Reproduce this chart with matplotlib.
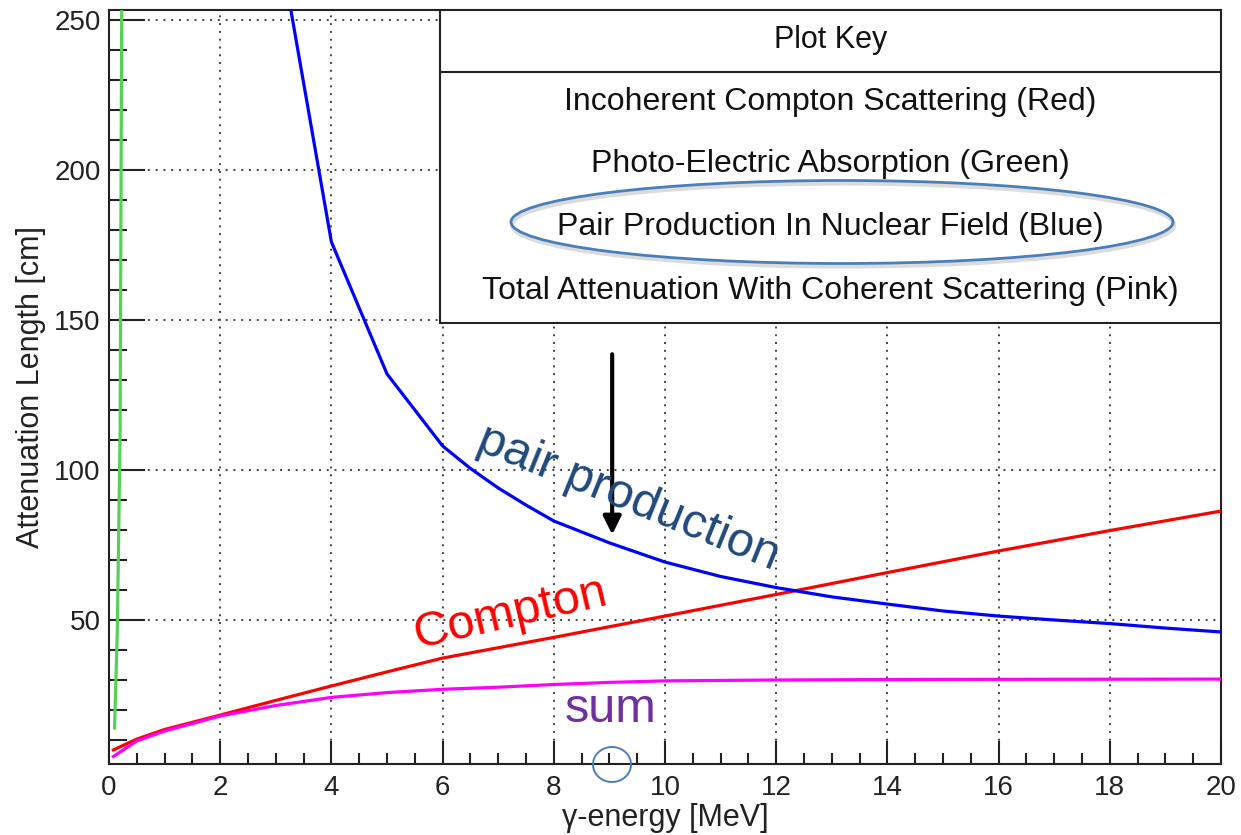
import numpy as np
import matplotlib.pyplot as plt
from matplotlib.patches import Ellipse, Rectangle

# attenuation lengths [cm]
e_compton = [0.08, 0.5, 1, 2, 3, 4, 5, 6, 8, 10, 12, 14, 16, 18, 20]
l_compton = [6.7, 10.3, 13.5, 18.3, 23.2, 28.0, 32.7, 37.3, 44.2, 51.3, 58.5, 65.8, 73.0, 79.8, 86.3]

e_photo = [0.10, 0.15, 0.20, 0.23]
l_photo = [14, 47, 113, 260]

e_pair = [3, 4, 5, 6, 6.5, 7, 7.5, 8, 9, 10, 11, 12, 13, 14, 15, 16, 17, 18, 19, 20]
l_pair = [282, 176, 132, 108, 100.5, 94, 88.3, 83, 75.7, 69.3, 64.5, 60.8, 57.7, 55.3, 53.0, 51.3, 50.0, 48.8, 47.3, 46.0]

e_total = [0.08, 0.5, 1, 2, 3, 4, 5, 6, 7, 8, 9, 10, 12, 15, 20]
l_total = [4.5, 9.7, 13.0, 18.0, 21.5, 24.2, 25.8, 26.9, 27.6, 28.5, 29.2, 29.7, 30.0, 30.2, 30.3]

key_title = "Plot Key"
key_lines = ["Incoherent Compton Scattering (Red)",
             "Photo-Electric Absorption (Green)",
             "Pair Production In Nuclear Field (Blue)",
             "Total Attenuation With Coherent Scattering (Pink)"]

plt.rcParams['font.family'] = ['Liberation Sans', 'DejaVu Sans']

W, H = 1241, 835
fig = plt.figure(figsize=(W/100, H/100), dpi=100)
ax = fig.add_axes([109/W, 1-764/H, 1112/W, 754/H])

ax.plot(e_photo, l_photo, color='#55D255', lw=2.3, zorder=3)
ax.plot(e_compton, l_compton, color='#FF0000', lw=2.3, zorder=3)
ax.plot(e_total, l_total, color='#FF00FF', lw=2.3, zorder=3)
ax.plot(e_pair, l_pair, color='#0000FF', lw=2.3, zorder=3)

ax.set_xlim(0, 20)
ax.set_ylim(2, 253.3)
ax.set_xticks(np.arange(0, 21, 2))
ax.set_xticks(np.arange(0, 20.01, 0.5), minor=True)
ax.set_yticks([50, 100, 150, 200, 250])
ax.set_yticks(np.arange(10, 251, 10), minor=True)

ax.grid(True, which='major', linestyle=(0, (1, 3)), color='#444444', lw=1.4, zorder=0)
ax.tick_params(axis='y', which='major', direction='in', length=26, width=1.5, labelsize=20, pad=6, colors='#222222')
ax.tick_params(axis='y', which='minor', direction='in', length=13, width=1.5, colors='#222222')
ax.tick_params(axis='x', which='major', direction='in', length=16.5, width=1.5, labelsize=20, pad=8, colors='#222222')
ax.tick_params(axis='x', which='minor', direction='in', length=8, width=1.5, colors='#222222')
for s in ax.spines.values():
    s.set_linewidth(1.5)
    s.set_color('#222222')

ax.set_xlabel('γ-energy [MeV]', fontsize=22, color='#222222')
ax.xaxis.set_label_coords(0.5, -0.0716)
ax.xaxis.label.set_va('center')
ax.set_ylabel('Attenuation Length [cm]', fontsize=22, color='#222222')
ax.yaxis.set_label_coords(-0.0701, 0.5)
ax.yaxis.label.set_va('center')

# plot key box
kx0, ky0, kdiv = 0.2977, 0.5849, 0.9178
ax.add_patch(Rectangle((kx0, ky0), 1-kx0, 1-ky0, transform=ax.transAxes,
                       fc='white', ec='#222222', lw=1.5, zorder=5))
ax.plot([kx0, 1], [kdiv, kdiv], transform=ax.transAxes, color='#222222', lw=1.5, zorder=6)
kxc = (kx0 + 1) / 2
ax.text(kxc, 0.9602, key_title, transform=ax.transAxes, ha='center', va='center',
        fontsize=22, color='#111111', zorder=7)
for yy, t in zip([0.878, 0.7958, 0.7122, 0.6273], key_lines):
    ax.text(kxc, yy, t, transform=ax.transAxes, ha='center', va='center',
            fontsize=23, color='#111111', zorder=7)

# annotations
fig.text(628/W, 1-498/H, 'pair production', fontsize=35, color='#1F497D',
         rotation=-22, rotation_mode='anchor', ha='center', va='center')
fig.text(511/W, 1-614/H, 'Compton', fontsize=35, color='#FF0000',
         rotation=13, rotation_mode='anchor', ha='center', va='center')
fig.text(611/W, 1-710/H, 'sum', fontsize=35, color='#7030A0',
         ha='center', va='center')

ax.annotate('', xy=(9.05, 77.5), xytext=(9.05, 139.5),
            arrowprops=dict(arrowstyle='-|>,head_width=0.27,head_length=0.55',
                            mutation_scale=20, lw=3, color='black'), zorder=8)

fig.add_artist(Ellipse((843/W, 1-225/H), 662/W, 83/H, transform=fig.transFigure,
                       fill=False, ec='#999999', lw=3, alpha=0.35))
fig.add_artist(Ellipse((842/W, 1-222/H), 662/W, 83/H, transform=fig.transFigure,
                       fill=False, ec='#4A7EBB', lw=2))
fig.add_artist(Ellipse((612/W, 1-764.5/H), 38/W, 35/H, transform=fig.transFigure,
                       fill=False, ec='#4A7EBB', lw=1.4))

fig.savefig('out.png', dpi=100)
